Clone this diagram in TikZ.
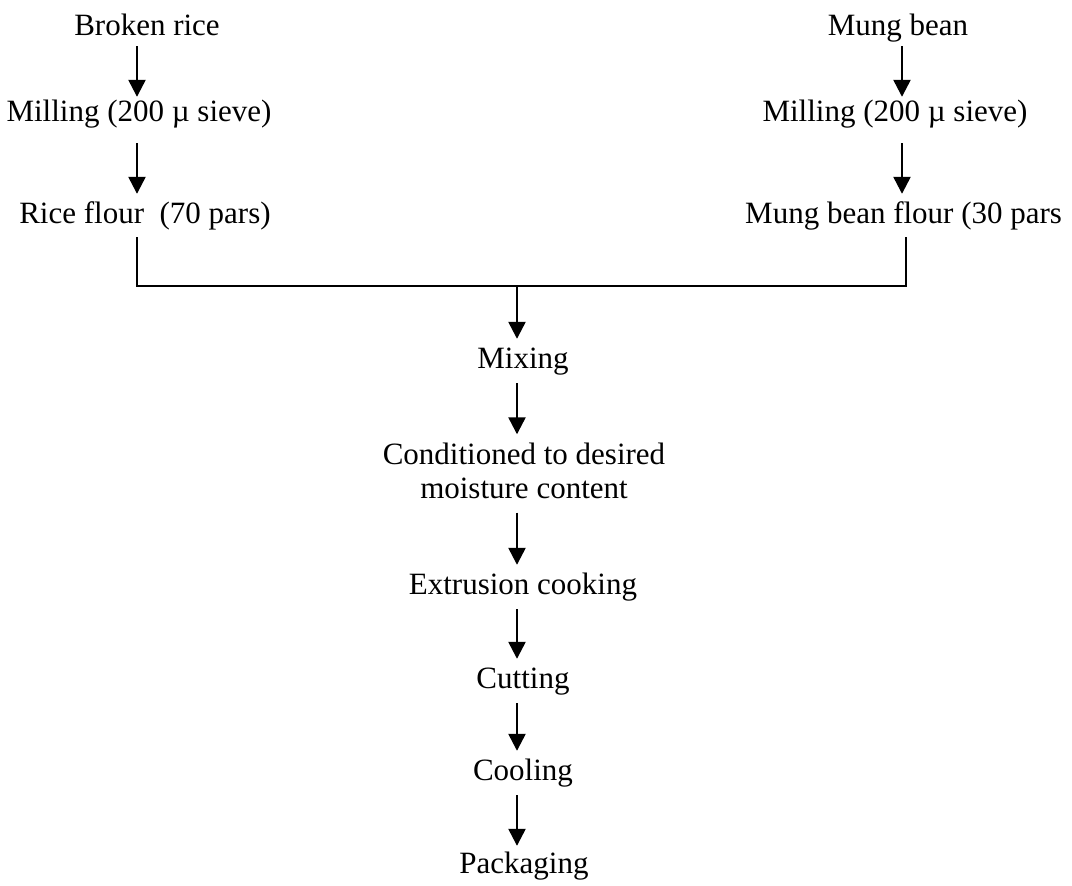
\documentclass[tikz,border=0pt]{standalone}
\usepackage{fontspec}
\setmainfont{Liberation Serif}
\usetikzlibrary{arrows.meta,calc}
\begin{document}
\begin{tikzpicture}[x=1pt,y=-1pt,
  lbl/.style={inner sep=0pt,text height=21pt,text depth=8pt,font=\fontsize{31}{34}\selectfont,anchor=base},
  arr/.style={line width=2.4pt,-{Triangle[length=17pt,width=17pt]},shorten <=7pt,shorten >=8pt},
  ln/.style={line width=2.4pt}]
\useasboundingbox (0,0) rectangle (1072,886);
\coordinate (L) at (137,0);
\coordinate (R) at (902,0);
\coordinate (Rl) at (906,0);
\coordinate (C) at (517,0);
\node[lbl] (br) at (147,35) {Broken rice};
\node[lbl] (m1) at (139,121) {Milling (200 µ sieve)};
\node[lbl] (rf) at (145,223) {Rice flour\ \ (70 pars)};
\node[lbl] (mb) at (898,35) {Mung bean};
\node[lbl] (m2) at (895,121) {Milling (200 µ sieve)};
\node[lbl,anchor=base west] (mf) at (745,223) {Mung bean flour (30 pars};
\coordinate (J) at (517,286);
\node[lbl] (mx) at (523,368) {Mixing};
\node[lbl,text height=,text depth=,align=center] (cd) at (524,498) {Conditioned to desired\\moisture content};
\node[lbl] (ex) at (523,594) {Extrusion cooking};
\node[lbl] (ct) at (523,688) {Cutting};
\node[lbl] (cl) at (523,780) {Cooling};
\node[lbl] (pk) at (524,873) {Packaging};
\draw[arr,shorten <=3pt,shorten >=3pt] (br.south -| L) -- (m1.north -| L);
\draw[arr,shorten <=14pt] (m1.south -| L) -- (rf.north -| L);
\draw[arr,shorten <=3pt,shorten >=3pt] (mb.south -| R) -- (m2.north -| R);
\draw[arr,shorten <=14pt] (m2.south -| R) -- (mf.north -| R);
\draw[ln] ([yshift=-6pt]rf.south -| L) -- (J -| L) -- (J -| Rl) -- ([yshift=-6pt]mf.south -| Rl);
\draw[arr,shorten <=0pt] (J) -- (mx.north -| C);
\draw[arr] (mx.south -| C) -- (cd.north -| C);
\draw[arr,shorten <=14pt] (cd.south -| C) -- (ex.north -| C);
\draw[arr] (ex.south -| C) -- (ct.north -| C);
\draw[arr] (ct.south -| C) -- (cl.north -| C);
\draw[arr,shorten >=6pt] (cl.south -| C) -- (pk.north -| C);
\end{tikzpicture}
\end{document}
